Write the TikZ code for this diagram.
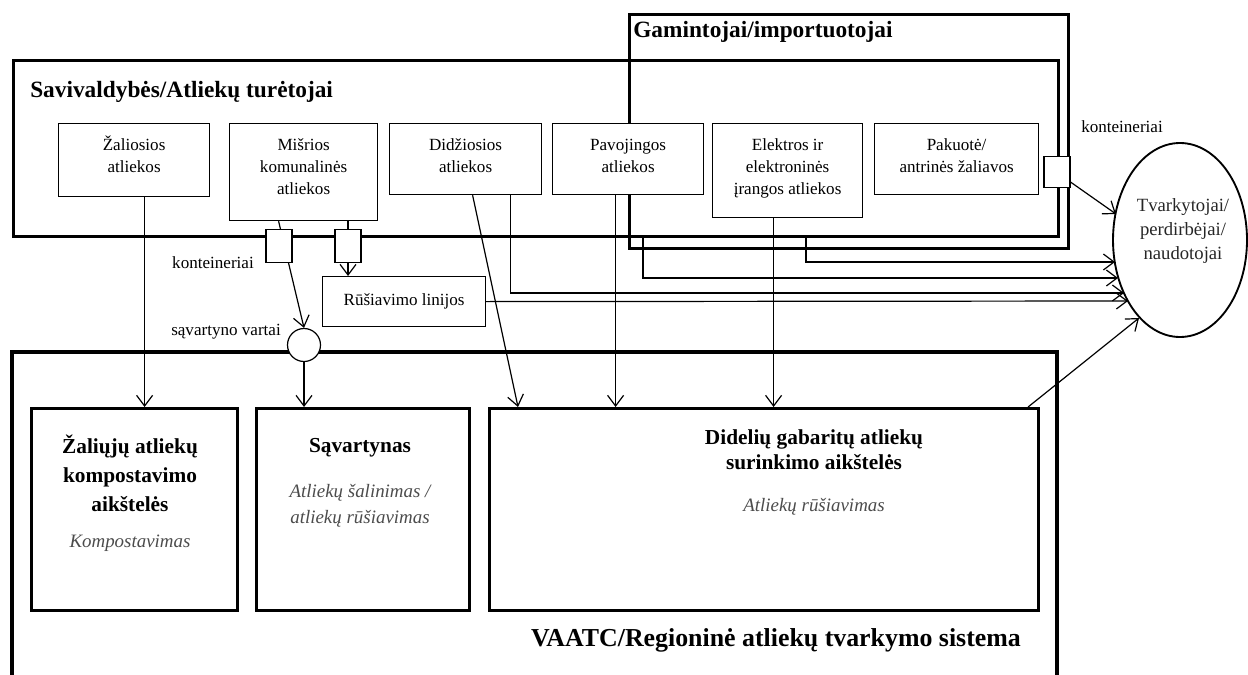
\documentclass[tikz,border=0pt]{standalone}
\usepackage{fontspec}
\setmainfont{Liberation Serif}
\usetikzlibrary{arrows.meta,calc,shapes.geometric,positioning}

\newlength{\pxu}
\setlength{\pxu}{0.75pt}
\newcommand{\topbox}[3]{\parbox[t][#2\pxu][t]{#1\pxu}{\centering\vspace*{12\pxu}\strut #3}}

\tikzset{
  areabox/.style={draw, line width=2pt, inner sep=0pt, anchor=north west},
  srcbox/.style={draw, fill=white, line width=0.9pt, inner sep=0pt, anchor=north west, font=\fontsize{12.8}{16.3}\selectfont},
  rusbox/.style={draw, fill=white, line width=0.9pt, inner sep=0pt, anchor=north west, minimum width=163\pxu, minimum height=50\pxu, font=\fontsize{12.8}{16.3}\selectfont},
  sitebox/.style={draw, fill=white, line width=2.3pt, inner sep=0pt, anchor=north west, minimum height=202\pxu},
  sqbox/.style={draw, fill=white, line width=0.9pt, inner sep=0pt, minimum width=26\pxu, minimum height=33\pxu},
  gatec/.style={circle, draw, fill=white, line width=0.9pt, inner sep=0pt, minimum size=33\pxu},
  ttl/.style={inner sep=0pt, font=\fontsize{17.5}{21}\selectfont\bfseries},
  sitettl/.style={inner sep=0pt, align=center, font=\fontsize{16}{21.75}\selectfont\bfseries},
  sitesub/.style={inner sep=0pt, align=center, text=black!70, font=\fontsize{14.2}{19.5}\selectfont\itshape},
  lbl/.style={inner sep=0pt, font=\fontsize{12.8}{16.3}\selectfont},
  arr/.style={line width=0.9pt, -{Straight Barb[length=8pt,width=12pt]}},
  link/.style={line width=0.9pt}
}

\begin{document}
\begin{tikzpicture}[x=0.75pt,y=0.75pt,yscale=-1,xscale=1]
\useasboundingbox (0,0) rectangle (1248,674);

%Shape: Rectangle [Savivaldybes]
\node[areabox, minimum width=1045\pxu, minimum height=176\pxu] (mun) at (12,59) {};
%Shape: Rectangle [Gamintojai]
\node[areabox, minimum width=439\pxu, minimum height=234\pxu] (prod) at (628,13) {};
%Shape: Frame [VAATC]
\draw[line width=3pt] (12,678) -- (12,352) -- (1057,352) -- (1057,678);

% Text Node
\node[ttl, anchor=west] (munttl) at (30,92) {Savivaldybės/Atliekų turėtojai};
\node[ttl, anchor=west] (prodttl) at (633,32) {Gamintojai/importuotojai};
\node[ttl, font=\fontsize{19.4}{23}\selectfont\bfseries] (regttl) at (776,640) {VAATC/Regioninė atliekų tvarkymo sistema};

%Shape: Rectangle [sources]
\node[srcbox] (zal) at (58,123) {\topbox{151}{73}{Žaliosios\\atliekos}};
\node[srcbox] (mis) at (229,123) {\topbox{148}{97}{Mišrios\\komunalinės\\atliekos}};
\node[srcbox] (did) at (389,123) {\topbox{152}{71}{Didžiosios\\atliekos}};
\node[srcbox] (pav) at (552,123) {\topbox{151}{71}{Pavojingos\\atliekos}};
\node[srcbox] (ele) at (712,123) {\topbox{150}{94}{Elektros ir\\elektroninės\\įrangos atliekos}};
\node[srcbox] (pak) at (874,123) {\topbox{164}{71}{Pakuotė/\\antrinės žaliavos}};
\node[rusbox] (rus) at (322,276) {Rūšiavimo linijos};

%Shape: Rectangle [sites]
\node[sitebox, minimum width=206\pxu] (zk) at (30,407) {};
\node[sitebox, minimum width=213\pxu] (sav) at (255,407) {};
\node[sitebox, minimum width=549\pxu] (dg) at (488,407) {};

\node[sitettl] (zkt) at (130,473) {Žaliųjų atliekų\\kompostavimo\\aikštelės};
\node[sitesub] (zks) at (130,543) {Kompostavimas};
\node[sitettl] (savt) at (360,448) {Sąvartynas};
\node[sitesub] (savs) at (360,506) {Atliekų šalinimas /\\atliekų rūšiavimas};
\node[sitettl, font=\fontsize{16}{18.75}\selectfont\bfseries] (dgt) at (814,450) {Didelių gabaritų atliekų\\surinkimo aikštelės};
\node[sitesub] (dgs) at (814,507) {Atliekų rūšiavimas};

%Shape: Ellipse
\node[ellipse, draw, line width=1.4pt, inner sep=0pt, minimum width=134\pxu, minimum height=194\pxu] (tv) at (1180,240) {};
\node[inner sep=0pt, align=center, text=black!85, font=\fontsize{14}{18}\selectfont] (tvt) at (1183,231) {Tvarkytojai/\\perdirbėjai/\\naudotojai};

%Shape: Circle
\node[gatec] (gate) at (304,345) {};

% Text Node
\node[lbl] (kont1) at (213,263) {konteineriai};
\node[lbl] (vart) at (226,332) {sąvartyno vartai};
\node[lbl] (kont2) at (1122,127) {konteineriai};

% ends on the ellipse
\coordinate (t0) at (1116,214);
\coordinate (t1) at (1115,262);
\coordinate (t2) at (1118,278);
\coordinate (t3) at (1124,293);
\coordinate (t4) at (1128,301);
\coordinate (t5) at (1139,318);
\coordinate (m1) at (643,235);
\coordinate (m2) at (806,235);

%Straight Lines
\coordinate (za) at ($(zal.south)+(10.5,0)$);
\draw[arr] (za) -- (za |- zk.north);
\coordinate (mg) at ($(mis.south)+(-25,0)$);
\draw[arr] (mg) -- (gate.north);
\draw[arr] (gate.south) -- (gate.south |- sav.north);
\coordinate (ds) at ($(did.south)+(7,0)$);
\draw[arr] (ds) -- ($(dg.north west)+(30,0)$);
\coordinate (ps) at ($(pav.south)+(-12.5,0)$);
\draw[arr] (ps) -- (ps |- dg.north);
\coordinate (es) at ($(ele.south)+(-14,0)$);
\draw[arr] (es) -- (es |- dg.north);
\coordinate (dt) at ($(did.south)+(45,0)$);
\draw[arr] (dt) |- (t3);
\draw[arr] (rus.east) -- (t4);
\draw[arr] (m1) |- (t2);
\draw[arr] (m2) |- (t1);
\draw[arr] ($(dg.north east)+(-12,0)$) -- (t5);

%Shape: Square [konteineriai]
\node[sqbox] (sq1) at (279,246) {};
\node[sqbox] (sq2) at (348,246) {};
\node[sqbox, minimum height=31\pxu] (sq3) at (1057,172) {};
\draw[link] (mis.south -| sq2.north) -- (sq2.north);
\draw[arr] (sq2.south) -- (sq2.south |- rus.north);
\draw[arr] ($(sq3.south east)+(0,-6)$) -- (t0);

\end{tikzpicture}
\end{document}
